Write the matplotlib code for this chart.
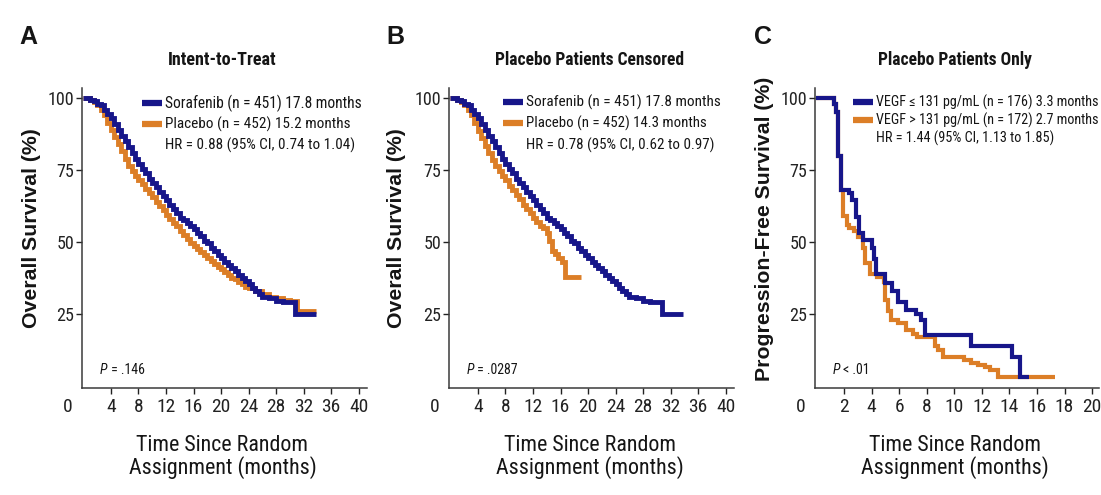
import matplotlib
matplotlib.use("Agg")
import matplotlib.pyplot as plt
import matplotlib.font_manager as fm
from matplotlib.font_manager import FontProperties
from matplotlib.lines import Line2D
from matplotlib.transforms import ScaledTranslation

# ---------------- data ----------------
# Panels A/B: sorafenib overall survival (same arm in both panels)
sor_t = [0, 0.5, 1, 1.5, 2, 2.5, 3, 3.5, 4, 4.5, 5, 5.5, 6, 6.5, 7, 7.5, 8, 8.5, 9, 9.5,
         10, 10.5, 11, 11.5, 12, 12.5, 13, 13.5, 14, 14.5, 15, 15.5, 16, 16.5, 17, 17.5,
         18, 18.5, 19, 19.5, 20, 20.5, 21, 21.5, 22, 22.5, 23, 23.5, 24, 24.5, 25, 25.5,
         26, 27, 28, 29, 30.8, 33.8]
sor_s = [100, 100, 99.5, 99, 98, 97.5, 96, 94.5, 93, 91, 89, 87, 85, 83, 81, 79, 77, 75.5, 74, 72,
         70.5, 69, 67.5, 66, 64.5, 63, 61.5, 60, 58.5, 57.5, 56.5, 55.5, 54.5, 53, 52, 50.5,
         49.5, 48, 47, 45.5, 44.5, 43, 42, 41, 40, 38.5, 37.5, 36.5, 35.5, 34, 33, 32,
         31, 30.5, 29.5, 29, 25, 25]
# Panel A: placebo, intent-to-treat
plaA_t = [0, 0.5, 1, 1.5, 2, 2.5, 3, 3.5, 4, 4.5, 5, 5.5, 6, 6.5, 7, 7.5, 8, 8.5, 9, 9.5,
          10, 10.5, 11, 11.5, 12, 12.5, 13, 13.5, 14, 14.5, 15, 15.5, 16, 16.5, 17, 17.5,
          18, 18.5, 19, 19.5, 20, 20.5, 21, 21.5, 22, 22.5, 23, 23.5, 24, 25, 26, 27,
          28, 29, 30, 31, 33.8]
plaA_s = [100, 100, 99.5, 98.5, 97.5, 96, 94, 91.5, 89, 86.5, 84, 81.5, 79, 76.5, 74.5, 73, 71.5, 70, 68.5, 67,
          65.5, 64, 62.5, 61, 59.5, 58, 56.5, 55.5, 54, 52.5, 51, 49.5, 48.5, 47.5, 46.5, 45.5,
          44.5, 43.5, 42.5, 41.5, 40.5, 39.5, 38.5, 37.5, 37, 36, 35.5, 34.5, 34, 33, 32, 31,
          30.5, 30, 29.5, 26, 26]
# Panel B: placebo, censored at crossover
plaB_t = [0, 0.5, 1, 1.5, 2, 2.5, 3, 3.5, 4, 4.5, 5, 5.5, 6, 6.5, 7, 7.5, 8, 8.5, 9, 9.5,
          10, 10.5, 11, 11.5, 12, 12.5, 13, 13.5, 14, 14.3, 14.7, 15.2, 15.6, 16.2, 16.6, 19]
plaB_s = [100, 100, 99.5, 98.5, 97.5, 96, 94, 91.5, 88.5, 86, 83.5, 81, 78.5, 76.5, 74.5, 73, 71.5, 69.5, 68, 66.5,
          65, 63, 61.5, 60, 58.5, 57, 55.5, 55, 53, 50.5, 47, 46, 44.5, 43, 38, 38]
# Panel C: progression-free survival, placebo patients only
vlo_t = [0, 1.1, 1.3, 1.45, 1.6, 1.8, 2.4, 2.6, 2.9, 3.1, 3.4, 4.0, 4.2, 4.3, 5.0, 5.5, 5.9,
         6.5, 7.2, 7.6, 7.9, 11.2, 14.2, 14.8, 15.4]
vlo_s = [100, 100, 98, 95, 80, 68, 67, 64.6, 58.7, 53, 50.7, 48, 44, 39, 35.8, 33, 29,
         26.4, 25, 23, 17.7, 14, 10, 3.1, 3.1]
vhi_t = [0, 1.1, 1.3, 1.45, 1.6, 1.8, 1.9, 2.2, 2.4, 2.7, 3.0, 3.4, 3.5, 3.9, 4.4, 4.9, 5.0,
         5.2, 5.4, 5.9, 6.5, 7.0, 7.3, 8.6, 8.8, 9.2, 10.7, 11.2, 11.7, 12.2, 12.6, 13.2, 17.3]
vhi_s = [100, 100, 98, 95, 80, 68, 59, 56, 55, 54, 51.7, 48, 42.7, 39, 38, 36, 30,
         26, 23, 22, 19.4, 18, 17, 14, 12.5, 10, 9, 8, 7.3, 6.5, 5.6, 3.1, 3.1]

ab_ticks = [0, 4, 8, 12, 16, 20, 24, 28, 32, 36, 40]
c_ticks = [0, 2, 4, 6, 8, 10, 12, 14, 16, 18, 20]
y_ticks = [25, 50, 75, 100]

titles = ["Intent-to-Treat", "Placebo Patients Censored", "Placebo Patients Only"]
letters = ["A", "B", "C"]
ylabels = ["Overall Survival (%)", "Overall Survival (%)", "Progression-Free Survival (%)"]
xlabel = "Time Since Random\nAssignment (months)"
leg_A = ["Sorafenib (n = 451) 17.8 months", "Placebo (n = 452) 15.2 months",
         "HR = 0.88 (95% CI, 0.74 to 1.04)"]
leg_B = ["Sorafenib (n = 451) 17.8 months", "Placebo (n = 452) 14.3 months",
         "HR = 0.78 (95% CI, 0.62 to 0.97)"]
leg_C = ["VEGF \u2264 131 pg/mL (n = 176) 3.3 months", "VEGF > 131 pg/mL (n = 172) 2.7 months",
         "HR = 1.44 (95% CI, 1.13 to 1.85)"]
pvals = [" = .146", " = .0287", " < .01"]

# ---------------- fonts ----------------
PREF = ["Liberation Sans Narrow", "Roboto Condensed", "DejaVu Sans", "Noto Sans",
        "Open Sans", "Lato", "Inter"]


def _w(f):
    w = f.weight
    if isinstance(w, str):
        w = fm.weight_dict.get(w, 400)
    return int(w)


def pick(bold=False, italic=False):
    best, bkey = None, None
    for f in fm.fontManager.ttflist:
        nm = f.name
        low = nm.lower()
        st = str(f.stretch).lower()
        cond = ("narrow" in low) or ("condensed" in low) or ("condensed" in st)
        if not cond or "mono" in low or "serif" in low:
            continue
        famrank = next((k for k, p in enumerate(PREF) if nm.startswith(p)), len(PREF))
        if st == "condensed" or ("condensed" in low and "semi" not in low and "extra" not in low):
            strank = 0
        elif "semi" in st or "semi" in low:
            strank = 1
        else:
            strank = 2
        w = _w(f)
        isb = w >= 600
        isi = f.style in ("italic", "oblique")
        key = (famrank, strank, isb != bold, isi != italic, abs(w - (700 if bold else 400)))
        if bkey is None or key < bkey:
            best, bkey = f, key
    if best is not None:
        return dict(fname=best.fname)
    return dict(family=["Roboto", "DejaVu Sans"], weight="bold" if bold else "normal",
                style="italic" if italic else "normal")


COND_R = pick(False, False)
COND_B = pick(True, False)
COND_I = pick(False, True)


def fp(spec, size):
    return FontProperties(size=size, **spec)


BOLDF = dict(family=["Liberation Sans", "DejaVu Sans"], weight="bold")

# ---------------- style ----------------
BLUE = "#17168a"
ORANGE = "#dc7e27"
TXT = "#151515"

W, H = 1101, 495
fig = plt.figure(figsize=(W / 100, H / 100), dpi=100)
fig.patch.set_facecolor("white")


def fx(px):
    return px / W


def fy(py):
    return 1 - py / H


panels = [
    dict(left=82, right=367, xlim=(-0.2, 41.2), ticks=ab_ticks, lw=3.5,
         curves=[(sor_t, sor_s, BLUE), (plaA_t, plaA_s, ORANGE)], leg=leg_A, legx=142,
         legy=[103, 124, 145], letx=19, ylx=32, ymid=228,
         legw=[197, 184, 188], titw=108),
    dict(left=449, right=734, xlim=(-0.2, 41.2), ticks=ab_ticks, lw=3.5,
         curves=[(sor_t, sor_s, BLUE), (plaB_t, plaB_s, ORANGE)], leg=leg_B, legx=503,
         legy=[102, 123, 145], letx=386, ylx=397, ymid=228,
         legw=[194, 180, 186], titw=190),
    dict(left=815, right=1099, xlim=(-0.1, 20.5), ticks=c_ticks, lw=3.0,
         curves=[(vlo_t, vlo_s, BLUE), (vhi_t, vhi_s, ORANGE)], leg=leg_C, legx=853,
         legy=[102, 120, 138], letx=754, ylx=765, ymid=229,
         legw=[222, 222, 178], titw=155),
]

fits = []  # (text, target_px, vertical)
ylab_texts = []
TOP, BOT = 88, 388
for i, p in enumerate(panels):
    ax = fig.add_axes([fx(p["left"]), fy(BOT), fx(p["right"] - p["left"]), (BOT - TOP) / H])
    for (t, s, c) in reversed(p["curves"]):
        ax.plot(t, s, drawstyle="steps-post", color=c, lw=p["lw"],
                solid_joinstyle="miter", solid_capstyle="butt")
    ax.set_xlim(*p["xlim"])
    ax.set_ylim(-0.7, 103.5)
    for sp in ["top", "right"]:
        ax.spines[sp].set_visible(False)
    for sp in ["left", "bottom"]:
        ax.spines[sp].set_linewidth(1.1)
        ax.spines[sp].set_color("#3a3a3a")
    ax.set_xticks(p["ticks"])
    ax.set_xticklabels([str(v) for v in p["ticks"]])
    ax.set_yticks(y_ticks)
    ax.set_yticklabels([str(v) for v in y_ticks])
    for lab in ax.get_xticklabels():
        lab.set_fontproperties(fp(COND_R, 14))
    for lab in ax.get_yticklabels():
        lab.set_fontproperties(fp(COND_R, 13))
    ax.tick_params(axis="x", direction="out", length=4, width=1.0, pad=3, colors="#222222")
    ax.tick_params(axis="y", direction="out", length=4, width=1.0, pad=1.5, colors="#222222")
    # origin label "0" sits left of the corner, without a tick mark
    ax.xaxis.get_major_ticks()[0].tick1line.set_visible(False)
    lab0 = ax.get_xticklabels()[0]
    lab0.set_transform(lab0.get_transform() + ScaledTranslation(-0.16, 0, fig.dpi_scale_trans))

    cx = (p["left"] + p["right"]) / 2
    t = fig.text(fx(cx - 2), fy(60), titles[i], ha="center", va="center",
                 fontproperties=fp(COND_B, 12), color=TXT)
    fits.append((t, p["titw"], False))
    fig.text(fx(p["letx"]), fy(37), letters[i], ha="left", va="center",
             fontproperties=FontProperties(size=18, **BOLDF), color=TXT)
    t = fig.text(fx(p["ylx"]), fy(p["ymid"]), ylabels[i], rotation=90, ha="center", va="center",
                 fontproperties=FontProperties(size=14, **BOLDF), color=TXT)
    ylab_texts.append(t)
    t = fig.text(fx(cx - 2), fy(457), xlabel, ha="center", va="center",
                 fontproperties=fp(COND_R, 18), linespacing=1.04, color=TXT)
    fits.append((t, 188, False))
    # legend
    for j, c in enumerate([BLUE, ORANGE]):
        fig.add_artist(Line2D([fx(p["legx"]), fx(p["legx"] + 20)], [fy(p["legy"][j])] * 2,
                              color=c, lw=4.5, solid_capstyle="butt"))
    for j in range(3):
        t = fig.text(fx(p["legx"] + 23), fy(p["legy"][j]), p["leg"][j], ha="left", va="center",
                     fontproperties=fp(COND_R, 10), color=TXT)
        fits.append((t, p["legw"][j], False))
    # P value: italic P followed by the value
    pt = fig.text(fx(p["left"] + 18), fy(370), "P", ha="left", va="center",
                  fontproperties=fp(COND_I, 10), color=TXT)
    ax.annotate(pvals[i], xy=(1.0, 0.5), xycoords=pt, ha="left", va="center",
                fontproperties=fp(COND_R, 10), color=TXT)

# scale text sizes so their extents match the reference
fig.canvas.draw()
r = fig.canvas.get_renderer()
for t, target, vert in fits:
    bb = t.get_window_extent(r)
    cur = bb.height if vert else bb.width
    if cur > 0:
        t.set_fontsize(t.get_fontsize() * target / cur)
# y labels: one common size, fitted on the "Overall Survival (%)" label
bb = ylab_texts[0].get_window_extent(r)
ysz = ylab_texts[0].get_fontsize() * 201 / bb.height
for t in ylab_texts:
    t.set_fontsize(ysz)

fig.savefig("out.png", dpi=100, facecolor="white")
